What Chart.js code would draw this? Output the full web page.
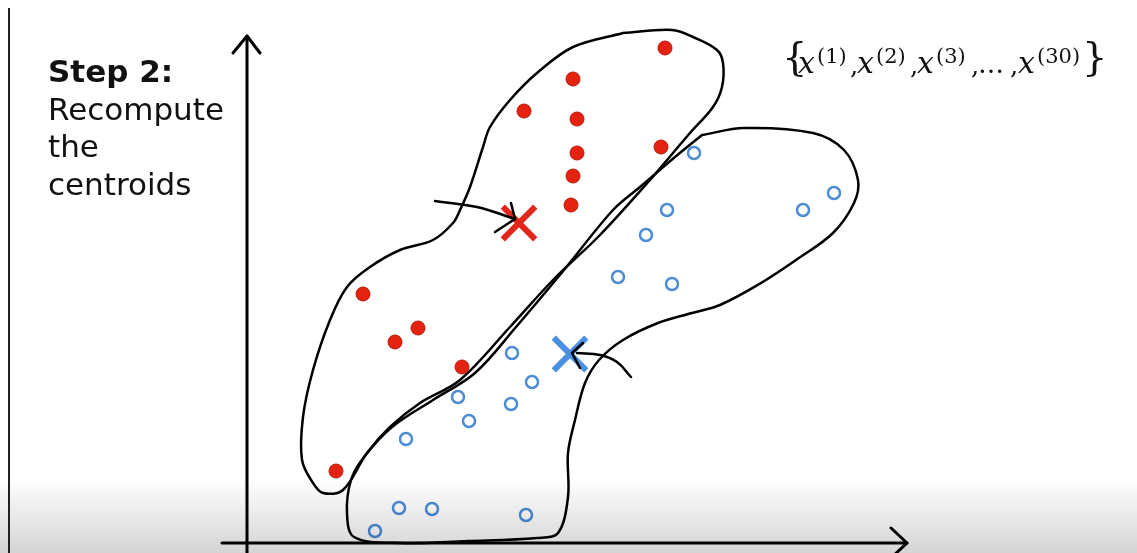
<!DOCTYPE html>
<html>
<head>
<meta charset="utf-8">
<script src="https://cdn.jsdelivr.net/npm/chart.js@4.4.1/dist/chart.umd.min.js"></script>
<style>
  html, body { margin: 0; padding: 0; background: #fff; }
  #wrap { width: 1137px; height: 553px; position: relative; }
</style>
</head>
<body>
<div id="wrap"><canvas id="kmeans"></canvas></div>
<script>
// 数据单位: 1 = 10px，原点在坐标轴交点
const redPoints = [
  [41.8, 49.5], [32.6, 46.4], [27.7, 43.2], [33.0, 42.4], [33.0, 39.0],
  [32.6, 36.7], [32.4, 33.8], [41.4, 39.6], [11.6, 24.9], [17.1, 21.5],
  [14.8, 20.1], [21.5, 17.6], [8.9, 7.2]
];
const bluePoints = [
  [44.7, 39.0], [42.0, 33.3], [39.9, 30.8], [37.1, 26.6], [42.5, 25.9],
  [55.6, 33.3], [58.7, 35.0], [26.5, 19.0], [28.5, 16.1], [21.1, 14.6],
  [26.4, 13.9], [22.2, 12.2], [15.9, 10.4], [15.2, 3.5], [18.5, 3.4],
  [27.9, 2.8], [12.8, 1.2]
];
const redCentroid = [[27.2, 32.0]];
const blueCentroid = [[32.3, 18.9]];

// 手描きの輪郭
const redOutline = [
  [37.6, 51.0], [42.5, 51.3], [44.6, 50.6], [47.0, 49.3], [47.6, 48.0],
  [47.5, 45.6], [46.6, 43.6], [44.3, 41.0], [42.6, 39.0], [40.3, 36.3],
  [35.3, 30.8], [30.6, 26.3], [26.3, 21.6], [21.3, 16.3], [17.3, 14.0],
  [14.3, 11.6], [12.0, 9.0], [9.6, 5.3], [7.6, 5.0], [6.6, 6.0],
  [5.5, 8.3], [5.6, 12.6], [6.6, 17.3], [8.3, 22.3], [10.0, 25.6],
  [12.3, 27.6], [15.3, 29.3], [18.6, 30.3], [20.6, 32.0], [21.3, 33.3],
  [22.3, 35.6], [23.6, 39.6], [24.3, 41.6], [26.3, 44.3], [29.0, 47.0],
  [32.6, 49.6], [37.6, 51.0]
];
const blueOutline = [
  [45.5, 40.8], [49.7, 41.5], [56.6, 41.0], [59.7, 39.3], [61.1, 36.3],
  [60.7, 34.0], [58.6, 31.0], [54.9, 28.3], [51.4, 26.0], [47.3, 23.8],
  [44.5, 23.0], [41.1, 22.0], [37.6, 20.3], [35.2, 18.3], [33.8, 16.0],
  [32.8, 12.3], [32.1, 9.0], [32.1, 4.6], [31.1, 1.0], [29.0, 0.5],
  [22.1, 0.2], [15.2, 0.0], [10.7, 0.6], [10.0, 3.0], [10.4, 6.3],
  [11.7, 8.6], [14.5, 11.6], [18.6, 14.3], [22.8, 17.0], [26.9, 21.6],
  [31.7, 27.3], [36.6, 33.3], [39.3, 35.6], [42.8, 38.6], [45.5, 40.8]
];

// 矢印
const redArrow = [[18.8, 34.2], [23.0, 33.6], [26.8, 32.4]];
const redArrowHead = [[26.4, 34.0], [26.8, 32.4], [24.8, 31.1]];
const blueArrow = [[38.4, 16.6], [37.0, 18.1], [35.3, 18.8], [33.0, 19.0]];
const blueArrowHead = [[33.6, 20.0], [32.5, 19.0], [33.3, 17.5]];

// 座標軸
const yAxisLine = [[0, -1.0], [0, 50.7]];
const yAxisHead = [[-1.4, 49.0], [0, 50.7], [1.3, 49.0]];
const xAxisLine = [[-2.5, 0], [66.0, 0]];
const xAxisHead = [[64.4, 1.5], [66.0, 0], [64.4, -1.5]];

const toXY = arr => arr.map(p => ({ x: p[0], y: p[1] }));

function stroke(data, width, tension, order) {
  return {
    data: toXY(data),
    showLine: true,
    borderColor: '#000',
    borderWidth: width,
    pointRadius: 0,
    tension: tension,
    fill: false,
    borderCapStyle: 'round',
    borderJoinStyle: 'round',
    order: order
  };
}

// インクの左端を合わせて描く
function inkText(c, text, left, base) {
  const m = c.measureText(text);
  c.fillText(text, left + m.actualBoundingBoxLeft, base);
}

const slidePlugin = {
  id: 'slide',
  beforeDraw(chart) {
    const c = chart.ctx;
    c.save();
    c.fillStyle = '#fff';
    c.fillRect(0, 0, chart.width, chart.height);
    c.restore();
  },
  afterDraw(chart) {
    const c = chart.ctx;
    c.save();
    // 下部のグラデーション
    const g = c.createLinearGradient(0, 478, 0, 553);
    g.addColorStop(0, 'rgba(0,0,0,0)');
    g.addColorStop(1, 'rgba(0,0,0,0.17)');
    c.fillStyle = g;
    c.fillRect(0, 478, chart.width, 75);

    // 左端の枠線
    c.fillStyle = '#222';
    c.fillRect(8, 8, 2, 545);

    // 見出し
    c.fillStyle = '#111';
    c.textBaseline = 'alphabetic';
    c.font = 'bold 31px "DejaVu Sans"';
    c.fillText('Step 2:', 48, 82);
    c.font = '31px "DejaVu Sans"';
    c.fillText('Recompute', 48, 120);
    c.fillText('the', 48, 157);
    c.fillText('centroids', 48, 195);

    // {x(1), x(2), x(3), ..., x(30)}
    c.font = '40px "DejaVu Serif"';
    const mb = c.measureText('{');
    const braceBase = 41 + mb.actualBoundingBoxAscent;
    inkText(c, '{', 787, braceBase);
    const mr = c.measureText('}');
    c.fillText('}', 1103 - mr.actualBoundingBoxRight, braceBase);

    const xs = [798, 857, 917, 1018];
    const supX = [818, 877, 937, 1038];
    const sups = ['(1)', '(2)', '(3)', '(30)'];
    xs.forEach((x, i) => {
      c.font = 'italic 30px "DejaVu Serif"';
      inkText(c, 'x', x, 73);
      c.font = '21px "DejaVu Serif"';
      inkText(c, sups[i], supX[i], 63);
    });
    c.font = '26px "DejaVu Serif"';
    [850, 910, 971, 1010].forEach(x => inkText(c, ',', x, 74));
    inkText(c, '…', 980, 73);
    c.restore();
  }
};

new Chart(document.getElementById('kmeans'), {
  type: 'scatter',
  data: {
    datasets: [
      stroke(redArrow, 2.5, 0.4, 0),
      stroke(redArrowHead, 2.5, 0, 0),
      stroke(blueArrow, 2.5, 0.4, 0),
      stroke(blueArrowHead, 2.5, 0, 0),
      {
        data: toXY(redCentroid),
        pointStyle: 'crossRot',
        pointRadius: 23,
        borderColor: '#e2261b',
        borderWidth: 6,
        order: 1
      },
      {
        data: toXY(blueCentroid),
        pointStyle: 'crossRot',
        pointRadius: 23,
        borderColor: '#4a90e2',
        borderWidth: 6,
        order: 1
      },
      {
        data: toXY(redPoints),
        pointStyle: 'circle',
        pointRadius: 7,
        backgroundColor: '#e5210f',
        borderColor: '#b51b0c',
        borderWidth: 1,
        order: 2
      },
      {
        data: toXY(bluePoints),
        pointStyle: 'circle',
        pointRadius: 6,
        backgroundColor: '#ffffff',
        borderColor: '#4d8dd8',
        borderWidth: 2.5,
        order: 2
      },
      stroke(redOutline, 2.5, 0.35, 3),
      stroke(blueOutline, 2.5, 0.35, 3),
      stroke(yAxisLine, 3, 0, 4),
      stroke(yAxisHead, 3, 0, 4),
      stroke(xAxisLine, 3, 0, 4),
      stroke(xAxisHead, 3, 0, 4)
    ]
  },
  options: {
    responsive: true,
    maintainAspectRatio: false,
    animation: false,
    devicePixelRatio: 1,
    layout: { padding: 0, autoPadding: false },
    plugins: {
      legend: { display: false },
      tooltip: { enabled: false }
    },
    scales: {
      x: { type: 'linear', min: -24.7, max: 89.0, display: false },
      y: { type: 'linear', min: -1.0, max: 54.3, display: false }
    }
  },
  plugins: [slidePlugin]
});
</script>
</body>
</html>
